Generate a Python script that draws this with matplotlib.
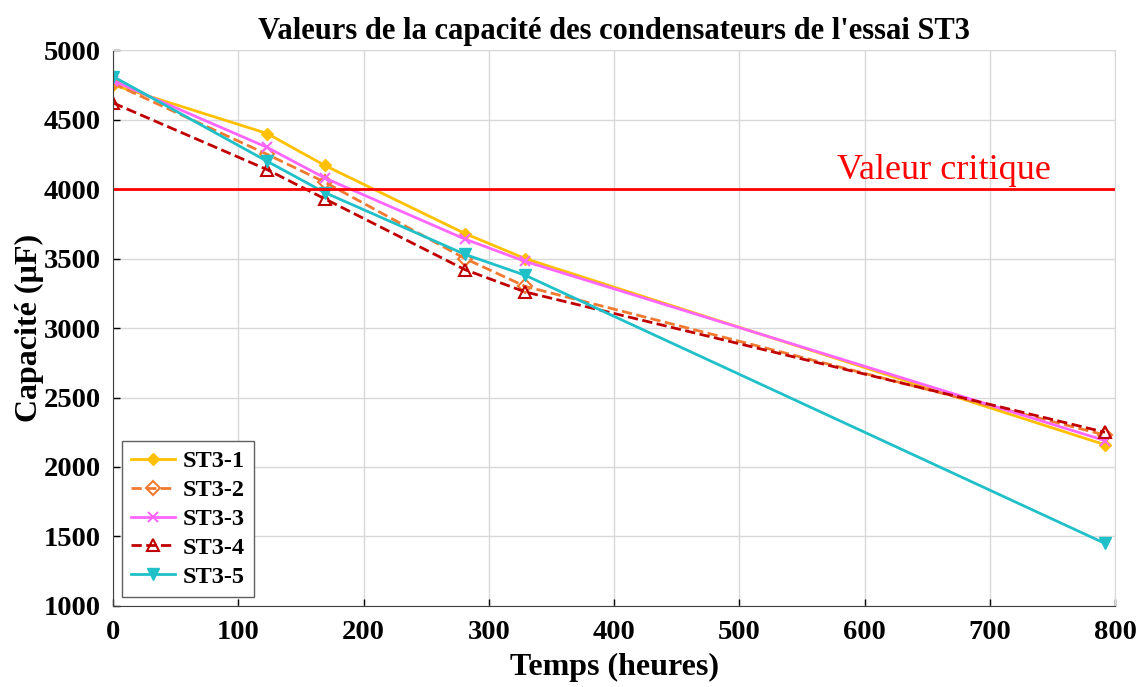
import matplotlib
matplotlib.use('Agg')
import matplotlib.pyplot as plt

plt.rcParams['font.family'] = ['Liberation Serif', 'DejaVu Serif']

temps = [0, 123, 169, 281, 329, 792]

st3_1 = [4750, 4400, 4170, 3680, 3500, 2160]
st3_2 = [4760, 4250, 4050, 3500, 3300, 2230]
st3_3 = [4780, 4300, 4080, 3640, 3480, 2190]
st3_4 = [4620, 4140, 3930, 3420, 3260, 2250]
st3_5 = [4810, 4200, 3975, 3530, 3380, 1450]

valeur_critique = 4000

fig = plt.figure(figsize=(11.43, 6.87), dpi=100)
ax = fig.add_axes([0.099, 0.118, 0.8765, 0.809])

ax.plot(temps, st3_1, '-', color='#FFC000', lw=2, marker='D', ms=6, label='ST3-1')
ax.plot(temps, st3_2, '--', color='#F07A30', lw=2, marker='D', ms=7, mfc='none', mew=1.5, label='ST3-2')
ax.plot(temps, st3_3, '-', color='#FF66FF', lw=2, marker='x', ms=7, mew=1.5, label='ST3-3')
ax.plot(temps, st3_4, '--', color='#C00000', lw=2, marker='^', ms=8, mfc='none', mew=1.5, label='ST3-4')
ax.plot(temps, st3_5, '-', color='#20C0C8', lw=2, marker='v', ms=8, label='ST3-5')

ax.axhline(valeur_critique, color='#FF0000', lw=2)
ax.text(578, 4075, 'Valeur critique', color='#FF0000', fontsize=26)

ax.set_xlim(0, 800)
ax.set_ylim(1000, 5000)
ax.set_xticks(range(0, 801, 100))
ax.set_yticks(range(1000, 5001, 500))
ax.grid(True, color='#D8D8D8', lw=1)
ax.set_axisbelow(True)
ax.tick_params(labelsize=20.5, direction='in', length=5, width=1)
ax.tick_params(axis='x', pad=10)
ax.tick_params(axis='y', pad=9)
for lbl in ax.get_xticklabels() + ax.get_yticklabels():
    lbl.set_fontweight('bold')
for side in ['top', 'right']:
    ax.spines[side].set_color('#D8D8D8')
for side in ['left', 'bottom']:
    ax.spines[side].set_color('#404040')

ax.set_xlabel('Temps (heures)', fontsize=23, fontweight='bold', labelpad=6)
ax.set_ylabel('Capacité (µF)', fontsize=23, fontweight='bold', labelpad=0)
ax.set_title("Valeurs de la capacité des condensateurs de l'essai ST3", fontsize=22, fontweight='bold', pad=8)

leg = ax.legend(loc='lower left', fancybox=False, edgecolor='#606060', framealpha=1,
                prop={'size': 17.5, 'weight': 'bold'}, handlelength=1.8, handletextpad=0.3,
                labelspacing=0.28, borderaxespad=0.35)

fig.savefig('out.png', dpi=100)
